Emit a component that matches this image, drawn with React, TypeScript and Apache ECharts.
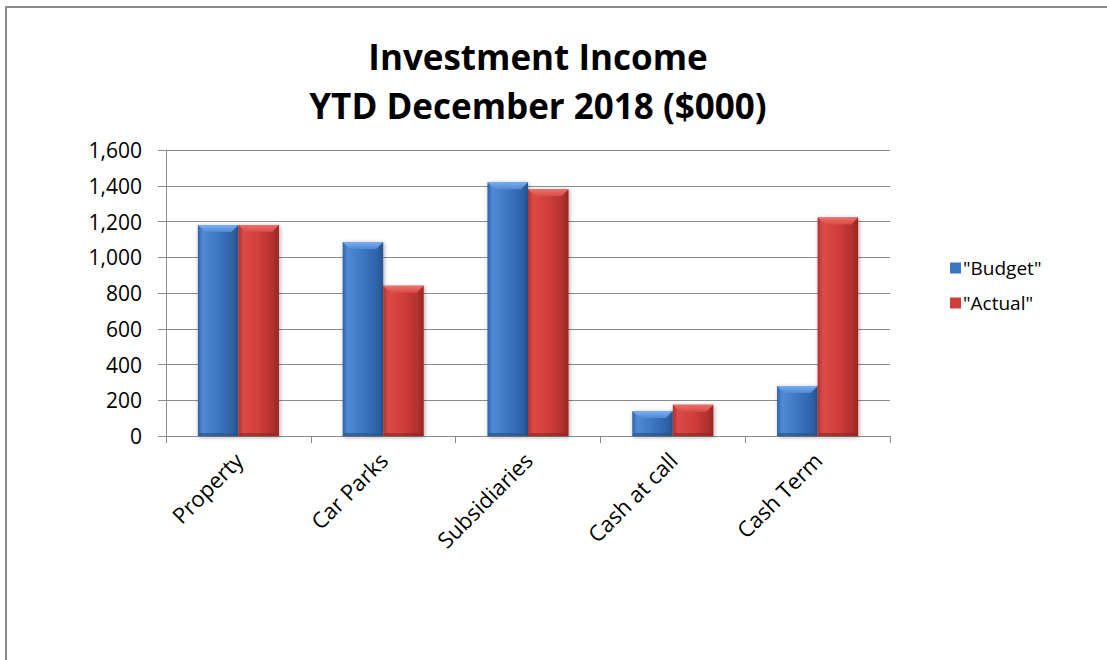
import React, { useEffect, useRef } from "react";
import * as echarts from "echarts";

const categories = ["Property", "Car Parks", "Subsidiaries", "Cash at call", "Cash Term"];
const budget = [1180, 1085, 1420, 140, 280];
const actual = [1180, 840, 1380, 175, 1222];
const seriesNames = ['"Budget"', '"Actual"'];
const yTicks = { min: 0, max: 1600, interval: 200 };

const FONT = "'Open Sans', Lato, sans-serif";

type Palette = { body: string; light: string; edge: string; dark: string; top: string };
const blue: Palette = { body: "#3c76c3", light: "#4f8ad6", edge: "#2f62a6", dark: "#28558f", top: "#79afef" };
const red: Palette = { body: "#d03e3b", light: "#da4a46", edge: "#b2302e", dark: "#972725", top: "#e8716c" };

const BAR_FRAC = 0.28;

// bevelled bar drawn from the axis scales; slot 0 sits left of the category centre, slot 1 right
function bevelBar(slot: number, pal: Palette) {
  return (params: any, api: any) => {
    const cat = api.value(0);
    const val = api.value(1);
    const base = api.coord([cat, 0]);
    const top = api.coord([cat, val]);
    const band = api.size([1, 0])[0];
    const w = band * BAR_FRAC;
    const x = base[0] - w + slot * w;
    const y = top[1];
    const h = base[1] - top[1];
    const b = Math.min(7, h / 2, w / 4);
    const hGrad = new echarts.graphic.LinearGradient(0, 0, 1, 0, [
      { offset: 0, color: pal.edge },
      { offset: 0.12, color: pal.light },
      { offset: 0.5, color: pal.body },
      { offset: 0.85, color: pal.edge },
      { offset: 1, color: pal.dark },
    ]);
    return {
      type: "group",
      children: [
        {
          type: "rect",
          shape: { x, y, width: w, height: h },
          style: {
            fill: hGrad,
            shadowColor: "rgba(0,0,0,0.35)",
            shadowBlur: 4,
            shadowOffsetX: 1,
            shadowOffsetY: 1,
          },
        },
        {
          type: "polygon",
          shape: { points: [[x, y], [x + w, y], [x + w - b, y + b], [x + b, y + b]] },
          style: {
            fill: new echarts.graphic.LinearGradient(0, 0, 0, 1, [
              { offset: 0, color: pal.top },
              { offset: 1, color: pal.light },
            ]),
          },
        },
        {
          type: "polygon",
          shape: { points: [[x, y + h], [x + w, y + h], [x + w - 2, y + h - 3], [x + 2, y + h - 3]] },
          style: { fill: pal.dark, opacity: 0.7 },
        },
      ],
    };
  };
}

export default function App() {
  const ref = useRef<HTMLDivElement>(null);

  useEffect(() => {
    if (!ref.current) return;
    const chart = echarts.init(ref.current, undefined, { renderer: "svg" });
    chart.setOption({
      animation: false,
      backgroundColor: "#ffffff",
      textStyle: { fontFamily: FONT },
      title: {
        text: "Investment Income\nYTD December 2018 ($000)",
        left: 533,
        top: 27,
        textAlign: "center",
        textStyle: { fontFamily: FONT, fontSize: 35, fontWeight: "bold", color: "#000", lineHeight: 49 },
      },
      graphic: [
        {
          type: "rect",
          z: -1,
          shape: { x: 6, y: 7, width: 1300, height: 900 },
          style: { fill: "none", stroke: "#8c8c8c", lineWidth: 2 },
        },
      ],
      legend: {
        orient: "vertical",
        left: 950,
        top: 257,
        padding: 0,
        itemGap: 13,
        itemWidth: 11,
        itemHeight: 11,
        icon: "rect",
        data: seriesNames,
        textStyle: { fontFamily: FONT, fontSize: 19, color: "#000", lineHeight: 22, padding: [0, 0, 0, -3] },
      },
      grid: { left: 166, right: 217, top: 150, bottom: 224, containLabel: false },
      xAxis: {
        type: "category",
        data: categories,
        boundaryGap: true,
        axisLine: { show: true, lineStyle: { color: "#8c8c8c", width: 1 } },
        axisTick: { show: true, alignWithLabel: false, length: 7, lineStyle: { color: "#8c8c8c" } },
        axisLabel: { rotate: 45, fontSize: 22, color: "#000", margin: 20, fontFamily: FONT },
      },
      yAxis: {
        type: "value",
        min: yTicks.min,
        max: yTicks.max,
        interval: yTicks.interval,
        axisLine: { show: true, lineStyle: { color: "#8c8c8c", width: 1 } },
        axisTick: { show: true, length: 8, lineStyle: { color: "#8c8c8c" } },
        axisLabel: {
          fontSize: 21,
          color: "#000",
          margin: 24,
          fontFamily: FONT,
          formatter: (v: number) => v.toLocaleString("en-US"),
        },
        splitLine: { show: true, lineStyle: { color: "#8c8c8c", width: 1 } },
      },
      series: [
        {
          name: seriesNames[0],
          type: "custom",
          renderItem: bevelBar(0, blue),
          itemStyle: { color: blue.body },
          encode: { x: 0, y: 1 },
          data: budget.map((v, i) => [i, v]),
        },
        {
          name: seriesNames[1],
          type: "custom",
          renderItem: bevelBar(1, red),
          itemStyle: { color: red.body },
          encode: { x: 0, y: 1 },
          data: actual.map((v, i) => [i, v]),
        },
      ],
    });
    return () => chart.dispose();
  }, []);

  return (
    <div
      ref={ref}
      style={{ position: "fixed", left: 0, top: 0, width: 1107, height: 660 }}
    />
  );
}
